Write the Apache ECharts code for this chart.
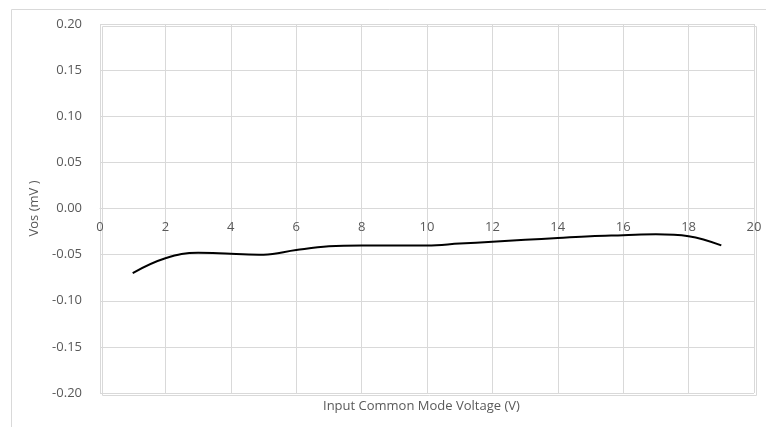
<!DOCTYPE html>
<html><head><meta charset="utf-8">
<script src="https://cdn.jsdelivr.net/npm/echarts@6/dist/echarts.min.js"></script>
<style>html,body{margin:0;padding:0;background:#fff}#c{width:766px;height:427px}</style>
</head><body><div id="c"></div>
<script>
var xValues = [1,2,3,4,5,6,7,8,9,10,11,12,13,14,15,16,17,18,19];
var vosValues = [-0.070,-0.054,-0.048,-0.049,-0.050,-0.045,-0.041,-0.040,-0.040,-0.040,-0.038,-0.036,-0.034,-0.032,-0.030,-0.029,-0.028,-0.030,-0.040];
var xAxisTitle = 'Input Common Mode Voltage (V)';
var yAxisTitle = 'Vos (mV )';

var chart = echarts.init(document.getElementById('c'));
var txt = '#595959', grid = '#d9d9d9', ff = '"Open Sans", "Liberation Sans", sans-serif';
var gridTop = 24, gridBottom = 34, gridH = 427 - gridTop - gridBottom;
chart.setOption({
  animation: false,
  grid: {left: 100, right: 12, top: gridTop, bottom: gridBottom},
  xAxis: {
    type: 'value', min: 0, max: 20, interval: 2,
    position: 'bottom', offset: -gridH / 2,
    axisLine: {show: true, onZero: false, lineStyle: {color: grid}},
    axisTick: {show: false},
    axisLabel: {color: txt, fontSize: 13, fontFamily: ff, margin: 12},
    splitLine: {show: true, lineStyle: {color: grid}}
  },
  yAxis: {
    type: 'value', min: -0.2, max: 0.2, interval: 0.05,
    name: yAxisTitle, nameLocation: 'middle', nameGap: 58, nameRotate: 90,
    nameTextStyle: {color: txt, fontSize: 13, fontFamily: ff},
    axisLine: {show: false}, axisTick: {show: false},
    axisLabel: {color: txt, fontSize: 13, fontFamily: ff, margin: 18,
      formatter: function(v){ return v.toFixed(2); }},
    splitLine: {show: true, lineStyle: {color: grid}}
  },
  graphic: [
    {type: 'rect', left: 9, top: 7, shape: {width: 820, height: 500}, silent: true, z: -10,
     style: {fill: 'none', stroke: '#d9d9d9', lineWidth: 1}},
    {type: 'rect', left: 100, top: 24, shape: {width: 654, height: 369}, silent: true, z: -5,
     style: {fill: 'none', stroke: grid, lineWidth: 1}},
    {type: 'text', left: 323, top: 400, style: {text: xAxisTitle, fill: txt, font: '13px ' + ff}}
  ],
  series: [{
    type: 'line', smooth: 0.4, showSymbol: false,
    data: xValues.map(function(x, i){ return [x, vosValues[i]]; }),
    lineStyle: {color: '#000', width: 2}
  }]
});
</script></body></html>
